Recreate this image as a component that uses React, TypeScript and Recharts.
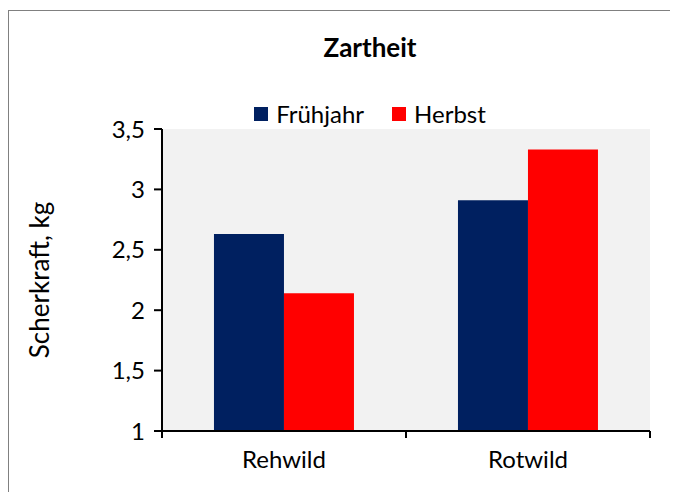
import React from 'react'
import { BarChart, Bar, XAxis, YAxis, CartesianGrid } from 'recharts'

const categories = ['Rehwild', 'Rotwild']
const fruehjahr = [2.63, 2.91]
const herbst = [2.14, 3.33]
const yTicks = [1, 1.5, 2, 2.5, 3, 3.5]

const SERIES = [
  { key: 'fruehjahr', name: 'Frühjahr', color: '#002060' },
  { key: 'herbst', name: 'Herbst', color: '#FF0000' },
]

const FONT = 'Lato, "Open Sans", sans-serif'
const FS = 24
const TICK_GAP = 20

const data = categories.map((c, i) => ({
  name: c,
  fruehjahr: fruehjahr[i],
  herbst: herbst[i],
}))

const fmt = (v: number) => String(v).replace('.', ',')

// category label plus Excel-style tick marks on the category borders
function CatTick(props: any) {
  const { x, y, payload, index, width } = props
  const half = width / categories.length / 2
  const axisY = y - TICK_GAP
  const marks = [x - half]
  if (index === categories.length - 1) marks.push(x + half)
  return (
    <g>
      {marks.map((mx) => (
        <line key={mx} x1={mx} x2={mx} y1={axisY} y2={axisY + 7} stroke="#000" strokeWidth={2} />
      ))}
      <text x={x} y={y} dy="0.71em" textAnchor="middle" fill="#000" fontSize={FS} fontFamily={FONT}>
        {payload.value}
      </text>
    </g>
  )
}

function LegendBox() {
  return (
    <div style={{ display: 'flex', justifyContent: 'center', alignItems: 'center', fontFamily: FONT, fontSize: FS, color: '#000', lineHeight: '28px' }}>
      {SERIES.map((s, i) => (
        <div key={s.key} style={{ display: 'flex', alignItems: 'center', marginLeft: i ? 28 : 0 }}>
          <span style={{ width: 14, height: 14, background: s.color, display: 'inline-block', marginRight: 8 }} />
          <span>{s.name}</span>
        </div>
      ))}
    </div>
  )
}

export default function App() {
  return (
    <div style={{ position: 'relative', width: 662, height: 484, overflow: 'hidden' }}>
      <div
        style={{
          position: 'absolute',
          left: 0,
          top: 2,
          width: 700,
          height: 600,
          border: '1.5px solid #808080',
        }}
      />
      <div
        style={{
          position: 'absolute',
          left: 212,
          width: 300,
          top: 23,
          textAlign: 'center',
          fontFamily: FONT,
          fontWeight: 'bold',
          fontSize: 26,
          lineHeight: '32px',
        }}
      >
        Zartheit
      </div>
      <div style={{ position: 'absolute', left: 212, width: 300, top: 92 }}>
        <LegendBox />
      </div>
      <div style={{ position: 'absolute', top: 0, left: 0 }}>
        <BarChart
          width={662}
          height={484}
          data={data}
          margin={{ top: 121, right: 20, bottom: 0, left: 0 }}
          barGap={0}
          barCategoryGap="21.3%"
        >
          <CartesianGrid horizontal={false} vertical={false} fill="#F2F2F2" />
          <XAxis
            dataKey="name"
            axisLine={{ stroke: '#000', strokeWidth: 2 }}
            tickLine={false}
            tickSize={0}
            tickMargin={TICK_GAP}
            tick={<CatTick />}
            height={61}
          />
          <YAxis
            width={154}
            domain={[1, 3.5]}
            ticks={yTicks}
            interval={0}
            tickFormatter={fmt}
            tickSize={8}
            tickMargin={9}
            axisLine={{ stroke: '#000', strokeWidth: 2 }}
            tickLine={{ stroke: '#000', strokeWidth: 2 }}
            tick={{ fill: '#000', fontSize: FS, fontFamily: FONT }}
            label={{
              value: 'Scherkraft, kg',
              angle: -90,
              position: 'insideLeft',
              offset: 32,
              style: { textAnchor: 'middle', fill: '#000', fontSize: 26, fontFamily: FONT },
            }}
          />
          {SERIES.map((s) => (
            <Bar
              key={s.key}
              dataKey={s.key}
              name={s.name}
              fill={s.color}
              isAnimationActive={false}
            />
          ))}
        </BarChart>
      </div>
    </div>
  )
}
